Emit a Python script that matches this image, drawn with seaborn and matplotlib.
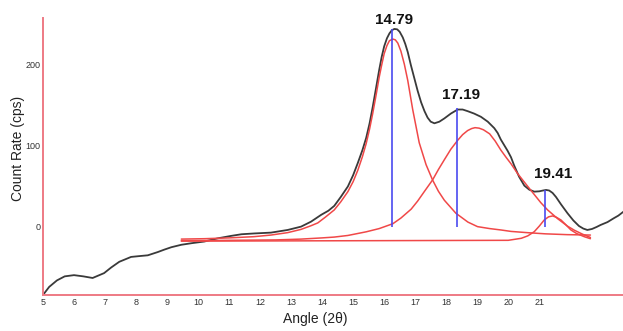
import matplotlib
matplotlib.use("Agg")
import matplotlib.pyplot as plt
import seaborn as sns
import pandas as pd
from matplotlib import font_manager

# ---- data ----
meas_x = [5.0, 5.2, 5.45, 5.7, 6.0, 6.3, 6.6, 6.97, 7.2, 7.46, 7.84, 8.1, 8.38, 8.7, 8.91,
          9.14, 9.46, 9.8, 10.2, 10.64, 11.07, 11.4, 11.82, 12.35, 12.89, 13.32, 13.64,
          13.97, 14.2, 14.39, 14.6, 14.83, 15.0, 15.15, 15.3, 15.42, 15.53, 15.63, 15.74,
          15.84, 15.92, 16.0, 16.09, 16.17, 16.25, 16.33, 16.42, 16.5, 16.6, 16.68, 16.76,
          16.86, 16.97, 17.08, 17.19, 17.3, 17.4, 17.5, 17.62, 17.78, 17.94, 18.15, 18.37,
          18.53, 18.69, 18.9, 19.12, 19.34, 19.55, 19.66, 19.76, 19.87, 19.98, 20.09, 20.19,
          20.35, 20.52, 20.68, 20.84, 21.0, 21.12, 21.22, 21.32, 21.43, 21.54, 21.7, 21.91,
          22.1, 22.28, 22.42, 22.55, 22.7, 22.85, 22.98, 23.2, 23.4, 23.55, 23.72]
meas_y = [-84, -74, -66, -61, -59.5, -61, -63, -57, -50, -43, -37, -36, -35, -31, -28,
          -25, -22, -20, -18, -14, -11, -9, -8, -7, -3.7, 0.4, 6.5,
          15, 20, 26, 37, 50, 64, 79, 95, 110, 128, 148, 172,
          194, 210, 223, 233, 239, 243, 244.5, 244, 241, 234, 226, 216,
          200, 184, 168, 154, 143, 135, 130, 128, 130, 134, 140, 145,
          145, 143, 140, 136, 130, 122, 116, 108, 101, 94, 86, 76,
          62, 51, 46, 43.6, 44, 45, 45.7, 45, 42, 37, 28, 17,
          8, 1.2, -2, -3.7, -2.5, 0, 2.5, 6, 10.7, 14, 19]

comp1_x = [9.46, 10.2, 11.0, 11.8, 12.35, 12.89, 13.32, 13.64, 13.86, 14.1, 14.39, 14.6,
           14.83, 15.0, 15.15, 15.3, 15.42, 15.53, 15.63, 15.74, 15.84, 15.92, 16.0, 16.09,
           16.17, 16.28, 16.36, 16.44, 16.54, 16.65, 16.76, 16.92, 17.13, 17.35, 17.56,
           17.75, 17.94, 18.31, 18.7, 19.01, 19.4, 19.76, 20.09, 20.6, 21.2, 21.9, 22.65]
comp1_y = [-15, -14.5, -13.5, -12, -10, -7, -3, 1.5, 5, 12, 21, 31,
           43.6, 56, 70, 87, 103, 121, 140, 163, 185, 200, 214, 224,
           230, 232, 231, 227, 217, 201, 181, 145, 104, 77, 58,
           44, 33, 17, 6, 0.4, -2, -3.7, -5.5, -7, -8.5, -9.5, -10]

comp2_x = [9.46, 11.0, 12.5, 13.32, 14.0, 14.39, 14.83, 15.42, 15.84, 16.28, 16.54,
           16.87, 17.08, 17.3, 17.56, 17.75, 17.94, 18.15, 18.37, 18.53, 18.69, 18.82,
           18.93, 19.06, 19.2, 19.4, 19.58, 19.76, 19.93, 20.09, 20.3, 20.63, 20.84,
           21.05, 21.27, 21.6, 21.91, 22.13, 22.4, 22.65]
comp2_y = [-17, -16.5, -16, -15, -13.5, -12.5, -10.5, -6, -2, 4, 11,
           22, 32, 44, 58, 71, 83, 96, 107, 114, 119, 121.5,
           122.6, 122, 120, 115, 106, 95, 86, 78, 66, 50, 40,
           30, 21, 10, 1, -4, -9, -13]

comp3_x = [9.46, 15.0, 20.0, 20.42, 20.63, 20.84, 21.0, 21.16, 21.3, 21.43, 21.55,
           21.7, 21.85, 22.02, 22.2, 22.45, 22.65]
comp3_y = [-17.5, -17, -16.5, -14, -11, -5.8, 1, 8.6, 12.5, 13.6, 12,
           8.6, 3, -3.7, -8, -12, -14.5]

peak_pos = [16.25, 18.36, 21.19]
peak_top = [245, 146.5, 45.7]
peak_labels = ["14.79", "17.19", "19.41"]
label_pos_x = [16.31, 18.48, 21.45]
label_pos_y = [255, 163, 65]

xticks = list(range(5, 22))
yticks = [0, 100, 200]

# ---- style ----
sns.set_theme(style="white")
avail = {f.name for f in font_manager.fontManager.ttflist}
fam = [f for f in ["Liberation Sans Narrow", "Liberation Sans", "DejaVu Sans"] if f in avail]
plt.rcParams["font.family"] = fam

fig = plt.figure(figsize=(6.23, 3.31), dpi=100)
ax = fig.add_axes([0.069, 0.1088, 0.931, 0.8368])

df_meas = pd.DataFrame({"x": meas_x, "y": meas_y})
sns.lineplot(data=df_meas, x="x", y="y", ax=ax, color="#3a3a3a", lw=1.3,
             estimator=None, sort=False)
red = "#f04848"
for cx, cy in [(comp1_x, comp1_y), (comp2_x, comp2_y), (comp3_x, comp3_y)]:
    sns.lineplot(x=cx, y=cy, ax=ax, color=red, lw=1.1, estimator=None, sort=False)

ax.vlines(peak_pos, [0] * len(peak_pos), peak_top, colors="#4a4af0", lw=1.2)
for lx, ly, t in zip(label_pos_x, label_pos_y, peak_labels):
    ax.text(lx, ly, t, ha="center", va="center", fontsize=11, fontweight="bold",
            color="#111111")

ax.set_xlim(5.0, 23.70)
ax.set_ylim(-84, 258)
ax.set_xticks(xticks)
ax.set_xticklabels([str(t) for t in xticks])
ax.set_yticks(yticks)
ax.set_yticklabels([str(t) for t in yticks])
ax.tick_params(axis="both", length=0, labelsize=6.5, colors="#333333", pad=2)

for s in ["top", "right"]:
    ax.spines[s].set_visible(False)
for s in ["left", "bottom"]:
    ax.spines[s].set_color("#ee7a84")
    ax.spines[s].set_linewidth(1.4)

ax.set_xlabel("Angle (2θ)", fontsize=10, color="#222222")
ax.set_ylabel("Count Rate (cps)", fontsize=10, color="#222222")
ax.xaxis.set_label_coords(0.469, -0.062)
ax.yaxis.set_label_coords(-0.031, 0.53)
ax.grid(False)

fig.savefig("out.png", dpi=100)
